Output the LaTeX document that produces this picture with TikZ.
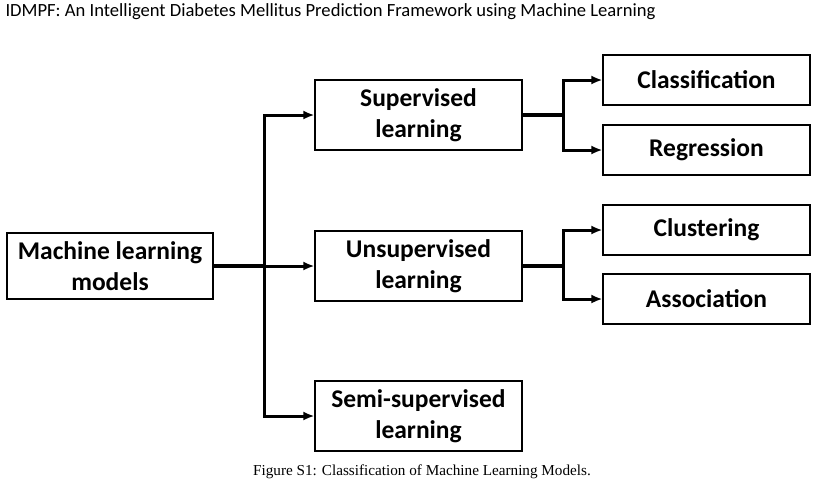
\documentclass[tikz,border=0pt]{standalone}
\usepackage{fontspec}
\setmainfont{Carlito}
\newfontfamily\capfont{Liberation Serif}
\usepackage{tikz}
\usetikzlibrary{arrows, arrows.meta, positioning}
\tikzset{
    mlbox/.style={draw, rectangle, line width=1.2pt, font=\fontsize{25.5}{31}\selectfont\bfseries, align=center, inner sep=0pt},
    wide/.style={mlbox, minimum width=207, minimum height=70},
    leaf/.style={mlbox, minimum width=207, minimum height=50},
    conn/.style={draw, line width=3pt, -{Latex[length=11pt, width=9pt]}},
    trunk/.style={draw, line width=3.8pt},
}
\begin{document}
\begin{tikzpicture}[x=1pt, y=-1pt]
    \useasboundingbox (0,0) rectangle (820,496);
    \node[anchor=west, font=\fontsize{18.6}{20}\selectfont] (title) at (2,12) {IDMPF: An Intelligent Diabetes Mellitus Prediction Framework using Machine Learning};

    \node[mlbox, minimum width=206, minimum height=66] (ml) at (110,266) {Machine learning\\models};
    \node[wide] (sup) at (418.5,115) {Supervised\\learning};
    \node[wide] (unsup) at (418.5,266) {Unsupervised\\learning};
    \node[wide] (semi) at (418.5,416) {Semi-supervised\\learning};
    \node[leaf] (cla) at (706.5,80) {Classification};
    \node[leaf] (reg) at (706.5,150) {Regression};
    \node[leaf] (clu) at (706.5,230) {Clustering};
    \node[leaf] (ass) at (706.5,299) {Association};

    \node[font=\fontsize{15.2}{17}\selectfont\capfont] (cap) at (422,472) {Figure S1: Classification of Machine Learning Models.};

    % branching points
    \coordinate (b0) at (264.5,266);
    \coordinate (b1) at (563.5,115);
    \coordinate (b2) at (563.5,266);

    \path[trunk] (ml.east) -- (b0);
    \path[conn] (b0) |- (sup.west);
    \path[conn] (b0) -- (unsup.west);
    \path[conn] (b0) |- (semi.west);

    \path[trunk] (sup.east) -- (b1);
    \path[conn] (b1) |- (cla.west);
    \path[conn] (b1) |- (reg.west);

    \path[trunk] (unsup.east) -- (b2);
    \path[conn] (b2) |- (clu.west);
    \path[conn] (b2) |- (ass.west);
\end{tikzpicture}
\end{document}
